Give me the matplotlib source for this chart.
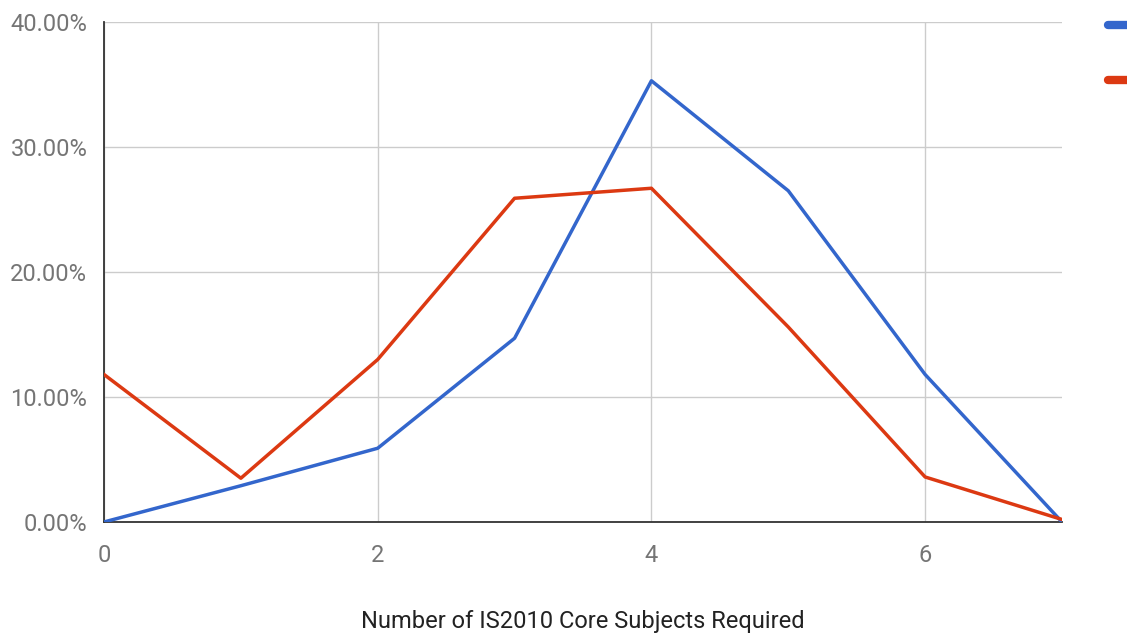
import matplotlib.pyplot as plt
from matplotlib.lines import Line2D
from matplotlib.ticker import FuncFormatter

plt.rcParams["font.family"] = ["Roboto", "DejaVu Sans"]

# share of programs (%) by number of core subjects required
subjects = [0, 1, 2, 3, 4, 5, 6, 7]
blue_share = [0.0, 2.9, 5.9, 14.7, 35.3, 26.5, 11.8, 0.0]
red_share = [11.8, 3.5, 13.0, 25.9, 26.7, 15.6, 3.6, 0.2]
y_ticks = [0, 10, 20, 30, 40]
x_ticks = [0, 2, 4, 6]

BLUE = "#3366CC"
RED = "#DC3912"
TICK_GREY = "#757575"

fig = plt.figure(figsize=(11.27, 6.33), dpi=100)
ax = fig.add_axes([0.0923, 0.1754, 0.85, 0.7898])

ax.plot(subjects, blue_share, color=BLUE, linewidth=2.5, solid_joinstyle="round", zorder=3)
ax.plot(subjects, red_share, color=RED, linewidth=2.5, solid_joinstyle="round", zorder=3)

ax.set_xlim(0, 7)
ax.set_ylim(0, 40)
ax.set_xticks(x_ticks)
ax.set_yticks(y_ticks)
ax.yaxis.set_major_formatter(FuncFormatter(lambda v, _: f"{v:.2f}%"))
ax.grid(True, color="#cccccc", linewidth=1.0, zorder=0)
ax.set_axisbelow(True)

for side in ("top", "right"):
    ax.spines[side].set_visible(False)
ax.spines["left"].set_color("#333333")
ax.spines["bottom"].set_color("#333333")
ax.spines["left"].set_linewidth(1.3)
ax.spines["bottom"].set_linewidth(1.3)

ax.tick_params(axis="both", length=0, labelsize=17, labelcolor=TICK_GREY)
ax.tick_params(axis="y", pad=12)
ax.tick_params(axis="x", pad=16)
ax.set_xlabel("Number of IS2010 Core Subjects Required", fontsize=17,
              color="#222222", labelpad=31)

# legend swatches sit at the right edge, their labels run off the canvas
for y, color in ((0.960, BLUE), (0.873, RED)):
    fig.add_artist(Line2D([0.983, 1.02], [y, y], transform=fig.transFigure,
                          color=color, linewidth=6, solid_capstyle="round"))

fig.savefig("out.png", dpi=100)
